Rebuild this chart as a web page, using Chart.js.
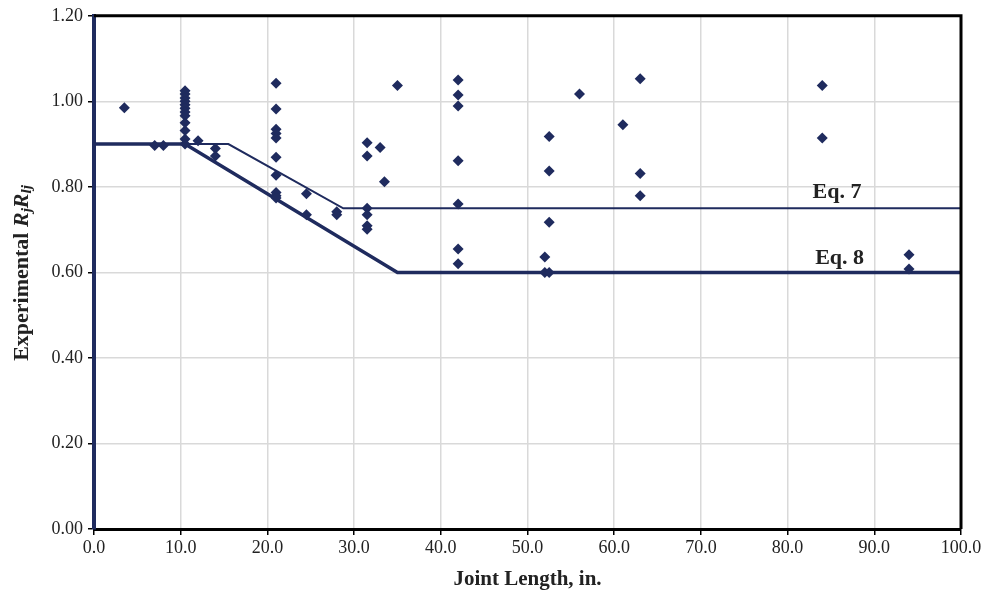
<!DOCTYPE html>
<html>
<head>
<meta charset="utf-8">
<script src="https://cdn.jsdelivr.net/npm/chart.js@4.4.1/dist/chart.umd.min.js"></script>
<style>
  body { margin: 0; background: #fff; }
  canvas { display: block; }
</style>
</head>
<body>
<canvas id="jointChart" width="990" height="599"></canvas>
<script>
// test data: joint length (in.) vs experimental Rj*Rlj
const jointLength = [
    3.5, 7.0, 8.0,
    10.5, 10.5, 10.5, 10.5, 10.5, 10.5, 10.5, 10.5, 10.5, 10.5, 10.5, 10.5,
    12.0, 14.0, 14.0,
    21.0, 21.0, 21.0, 21.0, 21.0, 21.0, 21.0, 21.0, 21.0, 21.0,
    24.5, 24.5, 28.0, 28.0,
    31.5, 31.5, 31.5, 31.5, 31.5, 31.5, 33.0, 33.5, 35.0,
    42.0, 42.0, 42.0, 42.0, 42.0, 42.0, 42.0,
    52.0, 52.0, 52.5, 52.5, 52.5, 52.5,
    56.0, 61.0, 63.0, 63.0, 63.0, 84.0, 84.0, 94.0, 94.0
];
const rjRlj = [
    0.985, 0.897, 0.897,
    1.025, 1.017, 1.008, 1.000, 0.992, 0.984, 0.975, 0.966, 0.950, 0.932, 0.912, 0.900,
    0.908, 0.890, 0.872,
    1.042, 0.982, 0.935, 0.925, 0.914, 0.869, 0.827, 0.787, 0.779, 0.774,
    0.784, 0.735, 0.742, 0.735,
    0.903, 0.872, 0.750, 0.735, 0.709, 0.701, 0.892, 0.812, 1.037,
    1.050, 1.015, 0.989, 0.861, 0.760, 0.655, 0.620,
    0.636, 0.600, 0.600, 0.918, 0.837, 0.717,
    1.017, 0.945, 1.053, 0.831, 0.779, 1.037, 0.914, 0.641, 0.608
];

// design equations
const eq7Length = [0, 15.5, 28.75, 100];
const eq7Value = [0.90, 0.90, 0.75, 0.75];
const eq8Length = [0, 10.5, 35, 100];
const eq8Value = [0.90, 0.90, 0.60, 0.60];

const xMin = 0, xMax = 100, xStep = 10;
const yMin = 0, yMax = 1.2, yStep = 0.2;

const navy = '#1f2b5e';
const serif = "'Liberation Serif', 'Times New Roman', serif";
const tickFont = { family: serif, size: 18 };

const toXY = (xs, ys) => xs.map((x, i) => ({ x: x, y: ys[i] }));

// frame, equation labels and the y title with subscripts
const extrasPlugin = {
    id: 'extras',
    afterDraw(chart) {
        const { ctx, chartArea: a, scales } = chart;
        ctx.save();
        ctx.strokeStyle = '#000';
        ctx.lineWidth = 3;
        ctx.beginPath();
        ctx.moveTo(a.left, a.top);
        ctx.lineTo(a.right, a.top);
        ctx.lineTo(a.right, a.bottom);
        ctx.stroke();

        ctx.fillStyle = '#222';
        ctx.textAlign = 'center';
        ctx.textBaseline = 'middle';
        ctx.font = 'bold 22px ' + serif;
        ctx.fillText('Eq. 7', scales.x.getPixelForValue(85.7), scales.y.getPixelForValue(0.787));
        ctx.fillText('Eq. 8', scales.x.getPixelForValue(86.0), scales.y.getPixelForValue(0.633));

        // x title
        ctx.font = 'bold 21px ' + serif;
        ctx.fillText('Joint Length, in.', (a.left + a.right) / 2, 580);

        // y title
        const parts = [
            { t: 'Experimental ', f: 'bold 22px ' + serif, dy: 0 },
            { t: 'R', f: 'italic bold 22px ' + serif, dy: 0 },
            { t: 'j', f: 'italic bold 15px ' + serif, dy: 5 },
            { t: 'R', f: 'italic bold 22px ' + serif, dy: 0 },
            { t: 'lj', f: 'italic bold 15px ' + serif, dy: 5 }
        ];
        let total = 0;
        parts.forEach(p => { ctx.font = p.f; p.w = ctx.measureText(p.t).width; total += p.w; });
        ctx.translate(22, 273);
        ctx.rotate(-Math.PI / 2);
        ctx.textAlign = 'left';
        ctx.textBaseline = 'middle';
        let pos = -total / 2;
        parts.forEach(p => {
            ctx.font = p.f;
            ctx.fillText(p.t, pos, p.dy);
            pos += p.w;
        });
        ctx.restore();
    }
};

new Chart(document.getElementById('jointChart'), {
    type: 'scatter',
    data: {
        datasets: [{
            label: 'Tests',
            data: toXY(jointLength, rjRlj),
            pointStyle: 'rectRot',
            pointRadius: 5.5,
            backgroundColor: navy,
            borderColor: navy,
            borderWidth: 0,
            order: 0
        }, {
            type: 'line',
            label: 'Eq. 7',
            data: toXY(eq7Length, eq7Value),
            borderColor: navy,
            borderWidth: 2,
            pointRadius: 0,
            fill: false,
            tension: 0,
            order: 1
        }, {
            type: 'line',
            label: 'Eq. 8',
            data: toXY(eq8Length, eq8Value),
            borderColor: navy,
            borderWidth: 3.5,
            pointRadius: 0,
            fill: false,
            tension: 0,
            order: 1
        }]
    },
    options: {
        responsive: false,
        animation: false,
        layout: { padding: { top: 15, right: 29, left: 0, bottom: 0 } },
        plugins: {
            legend: { display: false },
            tooltip: { enabled: false }
        },
        scales: {
            x: {
                type: 'linear',
                min: xMin,
                max: xMax,
                ticks: {
                    stepSize: xStep,
                    callback: v => v.toFixed(1),
                    font: tickFont,
                    color: '#222',
                    padding: 2,
                    maxRotation: 0
                },
                grid: { color: '#d9d9d9', lineWidth: 1.5, tickColor: '#000', tickLength: 6 },
                border: { color: '#000', width: 3 },
                afterFit(scale) { scale.height = 70; }
            },
            y: {
                min: yMin,
                max: yMax,
                ticks: {
                    stepSize: yStep,
                    callback: v => v.toFixed(2),
                    font: tickFont,
                    color: '#222',
                    padding: 5
                },
                grid: { color: '#d9d9d9', lineWidth: 1.5, tickColor: '#000', tickLength: 6 },
                border: { color: navy, width: 4 },
                afterFit(scale) { scale.width = 94; }
            }
        }
    },
    plugins: [extrasPlugin]
});
</script>
</body>
</html>
